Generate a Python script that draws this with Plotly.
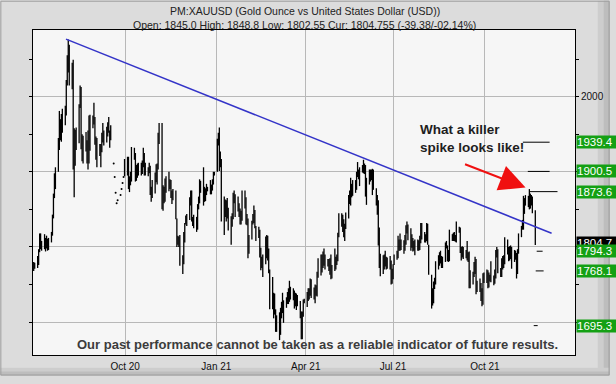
import pandas as pd
import plotly.graph_objects as go

# ---------------- data ----------------
# daily high / low (business days), 2020-07-02 .. 2020-09-18 and 2020-10-02 .. 2021-11-22
bar_highs = [
    # Jul 2020
    1780, 1779, 1788, 1797, 1818, 1818, 1808, 1817, 1812, 1815, 1811, 1812, 1820, 1843, 1871, 1898, 1906, 1945, 1981, 1970, 1977, 1984,
    # Aug 2020
    1988, 2022, 2055, 2076, 2069, 2045, 2049, 1958, 1956, 1959, 1990, 2015, 2013, 1950, 1948, 1953, 1942, 1955, 1975, 1976, 1975,
    # Sep 2020 (to 18th)
    1992, 1973, 1947, 1945, 1937, 1937, 1952, 1965, 1955, 1960, 1966, 1973, 1955, 1962,
    # Oct 2020 (from 2nd)
    1917, 1920, 1920, 1894, 1900, 1933, 1932, 1925, 1909, 1911, 1912, 1912, 1915, 1932, 1925, 1912, 1906, 1912, 1908, 1880, 1889,
    # Nov 2020
    1899, 1910, 1911, 1952, 1965, 1965, 1882, 1880, 1891, 1894, 1900, 1890, 1889, 1875, 1877, 1875, 1838, 1815, 1814, 1816, 1789,
    # Dec 2020
    1820, 1832, 1842, 1844, 1866, 1875, 1875, 1840, 1843, 1840, 1857, 1867, 1890, 1888, 1906, 1880, 1878, 1884, 1880, 1889, 1883, 1890, 1900,
    # Jan 2021
    1900, 1944, 1952, 1959, 1927, 1917, 1867, 1863, 1862, 1865, 1852, 1841, 1845, 1872, 1875, 1870, 1867, 1858, 1851, 1848, 1875,
    # Feb 2021
    1875, 1866, 1844, 1838, 1816, 1835, 1844, 1855, 1849, 1828, 1827, 1823, 1799, 1787, 1790, 1814, 1816, 1815, 1798, 1770,
    # Mar 2021
    1760, 1739, 1738, 1717, 1709, 1713, 1719, 1727, 1739, 1729, 1733, 1740, 1745, 1755, 1747, 1745, 1742, 1739, 1738, 1736, 1728, 1714, 1714,
    # Apr 2021
    1730, 1731, 1740, 1745, 1745, 1758, 1757, 1746, 1750, 1749, 1767, 1785, 1790, 1790, 1794, 1798, 1790, 1784, 1784, 1785, 1790, 1776,
    # May 2021
    1798, 1787, 1790, 1819, 1845, 1845, 1843, 1837, 1831, 1846, 1869, 1875, 1892, 1884, 1889, 1889, 1900, 1913, 1903, 1906, 1909,
    # Jun 2021
    1916, 1911, 1909, 1892, 1903, 1903, 1903, 1904, 1903, 1878, 1869, 1862, 1826, 1791, 1789, 1790, 1795, 1787, 1786, 1788, 1782, 1771,
    # Jul 2021
    1777, 1790, 1795, 1815, 1810, 1818, 1810, 1809, 1816, 1829, 1834, 1830, 1825, 1817, 1812, 1808, 1810, 1810, 1809, 1815, 1832, 1832,
    # Aug 2021
    1820, 1817, 1832, 1831, 1803, 1763, 1745, 1754, 1759, 1781, 1789, 1793, 1795, 1788, 1787, 1806, 1808, 1802, 1796, 1823, 1817, 1819,
    # Sep 2021
    1820, 1816, 1834, 1827, 1826, 1800, 1801, 1800, 1796, 1808, 1793, 1794, 1769, 1767, 1780, 1787, 1784, 1755, 1758, 1752, 1745, 1765,
    # Oct 2021
    1766, 1770, 1769, 1766, 1763, 1781, 1762, 1770, 1796, 1800, 1797, 1772, 1785, 1788, 1789, 1813, 1810, 1800, 1801, 1802, 1800,
    # Nov 2021
    1796, 1795, 1792, 1797, 1818, 1828, 1836, 1868, 1865, 1869, 1868, 1877, 1871, 1869, 1867, 1848.8,
]
bar_lows = [
    # Jul 2020
    1768, 1771, 1772, 1776, 1793, 1797, 1795, 1797, 1794, 1798, 1795, 1796, 1806, 1815, 1838, 1865, 1877, 1900, 1929, 1942, 1940, 1952,
    # Aug 2020
    1962, 1975, 2015, 2032, 2015, 2010, 1903, 1866, 1908, 1929, 1938, 1985, 1930, 1914, 1911, 1927, 1911, 1903, 1911, 1928, 1958,
    # Sep 2020
    1963, 1936, 1916, 1906, 1921, 1906, 1926, 1939, 1935, 1939, 1947, 1952, 1932, 1942,
    # Oct 2020
    1894, 1895, 1877, 1873, 1882, 1887, 1916, 1887, 1888, 1892, 1895, 1895, 1897, 1906, 1895, 1895, 1894, 1898, 1869, 1860, 1865,
    # Nov 2020
    1871, 1886, 1883, 1903, 1937, 1850, 1848, 1858, 1860, 1872, 1874, 1877, 1865, 1857, 1862, 1837, 1800, 1803, 1800, 1775, 1764,
    # Dec 2020
    1777, 1806, 1830, 1828, 1836, 1855, 1834, 1828, 1825, 1820, 1823, 1850, 1858, 1872, 1855, 1860, 1861, 1869, 1874, 1870, 1870, 1875, 1883,
    # Jan 2021
    1895, 1900, 1935, 1901, 1906, 1834, 1816, 1840, 1834, 1838, 1822, 1803, 1827, 1837, 1858, 1840, 1847, 1840, 1830, 1830, 1835,
    # Feb 2021
    1851, 1830, 1829, 1785, 1791, 1810, 1830, 1832, 1825, 1808, 1812, 1786, 1769, 1772, 1760, 1777, 1785, 1782, 1765, 1717,
    # Mar 2021
    1717, 1705, 1710, 1687, 1687, 1676, 1683, 1705, 1712, 1699, 1719, 1724, 1724, 1727, 1730, 1729, 1718, 1721, 1716, 1721, 1705, 1677, 1677,
    # Apr 2021
    1707, 1725, 1720, 1728, 1730, 1735, 1732, 1730, 1725, 1735, 1734, 1759, 1762, 1766, 1772, 1775, 1770, 1774, 1768, 1763, 1757, 1758,
    # May 2021
    1768, 1770, 1776, 1781, 1813, 1827, 1820, 1813, 1808, 1824, 1838, 1857, 1855, 1866, 1868, 1872, 1876, 1893, 1890, 1881, 1899,
    # Jun 2021
    1898, 1897, 1867, 1856, 1883, 1887, 1889, 1869, 1876, 1855, 1843, 1802, 1772, 1761, 1764, 1770, 1774, 1770, 1771, 1770, 1750, 1751,
    # Jul 2021
    1757, 1776, 1783, 1785, 1795, 1795, 1796, 1791, 1795, 1803, 1818, 1809, 1795, 1799, 1794, 1795, 1789, 1795, 1795, 1796, 1805, 1810,
    # Aug 2021
    1806, 1806, 1808, 1803, 1763, 1718, 1722, 1725, 1744, 1750, 1770, 1775, 1778, 1772, 1772, 1780, 1798, 1781, 1780, 1781, 1808, 1808,
    # Sep 2021
    1808, 1807, 1806, 1819, 1792, 1782, 1786, 1784, 1785, 1782, 1780, 1745, 1745, 1750, 1760, 1764, 1737, 1740, 1740, 1728, 1721, 1723,
    # Oct 2021
    1752, 1752, 1745, 1746, 1754, 1753, 1749, 1751, 1758, 1786, 1765, 1760, 1760, 1770, 1772, 1777, 1790, 1781, 1782, 1784, 1771,
    # Nov 2021
    1780, 1783, 1758, 1764, 1791, 1813, 1823, 1823, 1844, 1855, 1853, 1850, 1851, 1855, 1845, 1802.55,
]
# days with only a single quote (no range), 2020-09-21 .. 2020-10-01
dot_closes = [1911, 1893, 1872, 1858, 1862, 1869, 1877, 1885, 1893]

trend_dates = ["2020-08-03 17:00", "2021-12-08 12:00"]
trend_prices = [2076.6, 1818.2]

level_values = [1939.4, 1900.5, 1873.6, 1794.3, 1768.1, 1695.3]
current_price = 1804.755
current_label = "1804.7"

x_tick_labels = ["Oct 20", "Jan 21", "Apr 21", "Jul 21", "Oct 21"]
y_grid_values = [1700, 1800, 1900, 2000]
y_tick_labels = ["", "", "", "2000"]

title_line1 = "PM:XAUUSD (Gold Ounce vs United States Dollar (USD))"
title_line2 = "Open: 1845.0 High: 1848.8 Low: 1802.55 Cur: 1804.755 (-39.38/-02.14%)"
note_text = "What a killer<br>spike looks like!"
disclaimer = "Our past performance cannot be taken as a reliable indicator of future results."

# ---------------- build ----------------
bar_dates = list(pd.bdate_range("2020-07-02", "2020-09-18")) + list(pd.bdate_range("2020-10-02", "2021-11-22"))
dot_dates = list(pd.bdate_range("2020-09-21", "2020-10-01"))

xs, ys = [], []
for d, h, l in zip(bar_dates, bar_highs, bar_lows):
    ds = d.strftime("%Y-%m-%d")
    xs += [ds, ds, None]
    ys += [l, h, None]

W, H = 616, 384
ML, MR, MT, MB = 33, 35, 30, 21
PL, PR, PT, PB = ML, W - MR, MT, H - MB


def pxx(px):
    return (px - PL) / (PR - PL)


def pxy(py):
    return (PB - py) / (PB - PT)


fig = go.Figure()
fig.add_trace(go.Scatter(x=xs, y=ys, mode="lines", line=dict(color="black", width=1.3),
                         hoverinfo="skip", showlegend=False))
fig.add_trace(go.Scatter(x=[d.strftime("%Y-%m-%d") for d in dot_dates], y=dot_closes, mode="markers",
                         marker=dict(color="black", size=2), hoverinfo="skip", showlegend=False))
fig.add_trace(go.Scatter(x=trend_dates, y=trend_prices, mode="lines",
                         line=dict(color="#3434c8", width=1.5), hoverinfo="skip", showlegend=False))

# short level marker lines
level_spans = [("2021-11-09 10:00", "2021-12-06 12:00"), ("2021-11-14 10:00", "2021-12-06 12:00"),
               ("2021-11-16 10:00", "2021-12-14 12:00"), ("2021-11-23 10:00", "2021-11-29 10:00"),
               ("2021-11-22 10:00", "2021-11-30 10:00"), ("2021-11-20 10:00", "2021-11-24 10:00")]
shapes = []
for v, (a, b) in zip(level_values, level_spans):
    shapes.append(dict(type="line", xref="x", yref="y", x0=a, x1=b, y0=v, y1=v,
                       line=dict(color="black", width=1)))


# bevel around figure
def prect(x0, y0, x1, y1, color):
    return dict(type="rect", xref="paper", yref="paper", x0=pxx(x0), x1=pxx(x1), y0=pxy(y1), y1=pxy(y0),
                line=dict(width=0), fillcolor=color, layer="below")


shapes += [
    prect(604, 0, 616, 384, "#cdcdcd"),
    prect(610, 0, 616, 384, "#bdbdbd"),
    prect(0, 376, 616, 384, "#cdcdcd"),
    prect(0, 380, 616, 384, "#bdbdbd"),
    dict(type="rect", xref="paper", yref="paper", x0=pxx(0.5), x1=pxx(615.5), y0=pxy(383.5), y1=pxy(0.5),
         line=dict(color="#9c9c9c", width=1), fillcolor="rgba(0,0,0,0)", layer="below"),
]

annotations = [
    dict(text=title_line1, xref="paper", yref="paper", x=pxx(308), y=pxy(11), showarrow=False,
         xanchor="center", yanchor="middle",
         font=dict(family="Liberation Sans, Arial", size=10.5, color="#222222")),
    dict(text=title_line2, xref="paper", yref="paper", x=pxx(308), y=pxy(24.5), showarrow=False,
         xanchor="center", yanchor="middle",
         font=dict(family="Liberation Sans, Arial", size=10.5, color="#222222")),
    dict(text=note_text, xref="paper", yref="paper", x=pxx(422), y=pxy(141.5), xanchor="left",
         yanchor="middle", align="left", showarrow=False,
         font=dict(family="Liberation Sans, Arial", size=13.5, color="#1e1e1e", weight="bold")),
    dict(text=disclaimer, xref="paper", yref="paper", x=pxx(321), y=pxy(352.5), showarrow=False,
         xanchor="center", yanchor="middle",
         font=dict(family="Liberation Sans, Arial", size=13, color="#3c3c3c", weight="bold")),
    dict(text="", xref="paper", yref="paper", x=pxx(531), y=pxy(191.5), ax=-62, ay=-24,
         showarrow=True, arrowhead=2, arrowsize=2.6, arrowwidth=2, arrowcolor="#f01010"),
]
# price boxes on the right
annotations.append(dict(text=current_label, xref="paper", yref="y", x=1, y=current_price,
                        xanchor="left", yanchor="middle", xshift=1, showarrow=False, bgcolor="black", borderpad=0,
                        width=44, align="left", font=dict(family="Liberation Sans, Arial", size=11.5, color="white")))
for v in level_values:
    annotations.append(dict(text=f"{v:.1f}", xref="paper", yref="y", x=1, y=v, xanchor="left", yanchor="middle",
                            xshift=1, showarrow=False, bgcolor="#14a014", borderpad=0, width=44, align="left",
                            font=dict(family="Liberation Sans, Arial", size=11.5, color="white")))

fig.update_layout(
    width=W, height=H,
    margin=dict(l=ML, r=MR, t=MT, b=MB),
    paper_bgcolor="#dcdcdc",
    plot_bgcolor="#f6f6f6",
    showlegend=False,
    hovermode=False,
    shapes=shapes,
    annotations=annotations,
    xaxis=dict(
        type="date",
        range=["2020-07-01 07:00", "2022-01-01 05:00"],
        tickvals=["2020-10-02 16:00", "2021-01-02 23:00", "2021-04-03 12:00", "2021-06-30 22:00", "2021-10-01 22:00"],
        ticktext=x_tick_labels,
        showgrid=True, gridcolor="#b8b8b8", gridwidth=1,
        showline=True, linecolor="black", linewidth=1, mirror=True,
        ticks="", ticklabelstandoff=2,
        tickfont=dict(family="Liberation Sans, Arial", size=10, color="#111111"),
        zeroline=False, fixedrange=True,
    ),
    yaxis=dict(
        side="right",
        range=[1656.2, 2088.7],
        tickvals=y_grid_values, ticktext=y_tick_labels,
        showgrid=True, gridcolor="#b8b8b8", gridwidth=1,
        showline=True, linecolor="black", linewidth=1, mirror="ticks",
        ticks="outside", ticklen=3, tickcolor="black",
        minor=dict(dtick=50, tick0=1650, ticks="outside", ticklen=3, tickcolor="black", showgrid=False),
        tickfont=dict(family="Liberation Sans, Arial", size=10, color="#111111"),
        zeroline=False, fixedrange=True,
    ),
)

fig.write_html("out.html", config={"displayModeBar": False, "staticPlot": True},
               post_script="document.body.style.margin='0';document.body.style.overflow='hidden';")
